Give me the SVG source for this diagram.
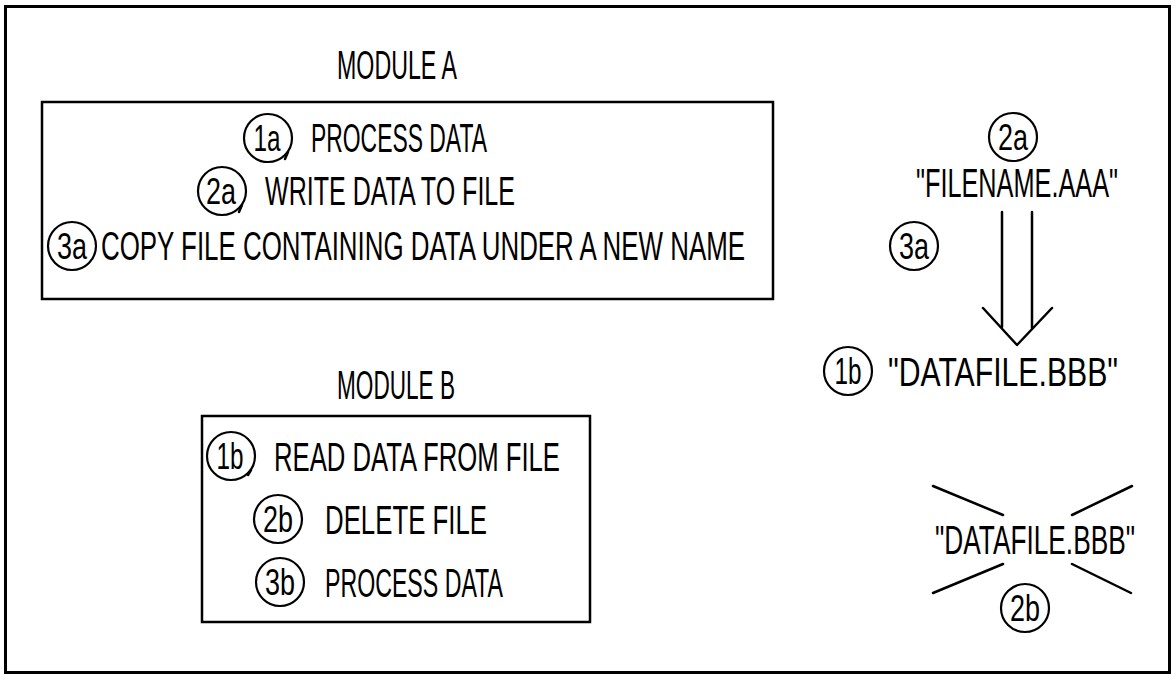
<svg xmlns="http://www.w3.org/2000/svg" width="1176" height="675" viewBox="0 0 1176 675">
  <style>
    .frame { fill: none; stroke: #000; stroke-width: 3; }
    .box { fill: none; stroke: #000; stroke-width: 2.5; }
    .ln { fill: none; stroke: #000; stroke-width: 2.5; stroke-linecap: round; stroke-linejoin: round; }
    .tag { fill: none; stroke: #000; stroke-width: 2.2; }
    text { font-family: "Liberation Sans Narrow", "Liberation Sans", Arial, sans-serif; fill: #000; }
    .t { font-size: 40px; }
    .n { font-size: 37px; text-anchor: middle; }
  </style>

  <rect width="1176" height="675" fill="#fff"/>
  <rect class="frame" x="5.5" y="6.5" width="1164" height="666"/>

  <!-- Module A -->
  <g id="moduleA">
    <text class="t" x="337" y="79" textLength="120" lengthAdjust="spacingAndGlyphs">MODULE A</text>
    <rect class="box" x="42" y="102" width="731" height="197"/>
    <g id="a1">
      <circle class="tag" cx="268" cy="138" r="24"/>
      <path class="ln" d="M288 152 l-3 7"/>
      <text class="n" x="267" y="151" textLength="27" lengthAdjust="spacingAndGlyphs">1a</text>
      <text class="t" x="311" y="152" textLength="176" lengthAdjust="spacingAndGlyphs">PROCESS DATA</text>
    </g>
    <g id="a2">
      <circle class="tag" cx="222" cy="191" r="24"/>
      <path class="ln" d="M242 205 l-3 7"/>
      <text class="n" x="221" y="204" textLength="30" lengthAdjust="spacingAndGlyphs">2a</text>
      <text class="t" x="265" y="205" textLength="250" lengthAdjust="spacingAndGlyphs">WRITE DATA TO FILE</text>
    </g>
    <g id="a3">
      <circle class="tag" cx="72" cy="246" r="24"/>
      <text class="n" x="72" y="259" textLength="30" lengthAdjust="spacingAndGlyphs">3a</text>
      <text class="t" x="101" y="260" textLength="644" lengthAdjust="spacingAndGlyphs">COPY FILE CONTAINING DATA UNDER A NEW NAME</text>
    </g>
  </g>

  <!-- Module B -->
  <g id="moduleB">
    <text class="t" x="337" y="399" textLength="118" lengthAdjust="spacingAndGlyphs">MODULE B</text>
    <rect class="box" x="202" y="416" width="388" height="206"/>
    <g id="b1">
      <circle class="tag" cx="231" cy="456" r="24"/>
      <path class="ln" d="M251 470 l-3 5"/>
      <text class="n" x="230" y="469" textLength="27" lengthAdjust="spacingAndGlyphs">1b</text>
      <text class="t" x="274" y="471" textLength="286" lengthAdjust="spacingAndGlyphs">READ DATA FROM FILE</text>
    </g>
    <g id="b2">
      <circle class="tag" cx="278" cy="519" r="24"/>
      <text class="n" x="278" y="532" textLength="30" lengthAdjust="spacingAndGlyphs">2b</text>
      <text class="t" x="325" y="534" textLength="162" lengthAdjust="spacingAndGlyphs">DELETE FILE</text>
    </g>
    <g id="b3">
      <circle class="tag" cx="280" cy="582" r="24"/>
      <text class="n" x="280" y="595" textLength="30" lengthAdjust="spacingAndGlyphs">3b</text>
      <text class="t" x="325" y="597" textLength="178" lengthAdjust="spacingAndGlyphs">PROCESS DATA</text>
    </g>
  </g>

  <!-- Source file -->
  <g id="source">
    <circle class="tag" cx="1013" cy="137" r="24"/>
    <text class="n" x="1013" y="150" textLength="30" lengthAdjust="spacingAndGlyphs">2a</text>
    <text class="t" x="916" y="197" textLength="202" lengthAdjust="spacingAndGlyphs">"FILENAME.AAA"</text>
  </g>

  <!-- Copy step -->
  <g id="copy">
    <circle class="tag" cx="914" cy="246" r="24"/>
    <text class="n" x="914" y="259" textLength="30" lengthAdjust="spacingAndGlyphs">3a</text>
  </g>

  <!-- Target file -->
  <g id="target">
    <circle class="tag" cx="848" cy="371" r="24"/>
    <text class="n" x="848" y="384" textLength="27" lengthAdjust="spacingAndGlyphs">1b</text>
    <text class="t" x="888" y="386" textLength="230" lengthAdjust="spacingAndGlyphs">"DATAFILE.BBB"</text>
  </g>

  <!-- Deleted file -->
  <g id="deleted">
    <text class="t" x="935" y="554" textLength="200" lengthAdjust="spacingAndGlyphs">"DATAFILE.BBB"</text>
    <circle class="tag" cx="1025" cy="608" r="24"/>
    <text class="n" x="1025" y="621" textLength="30" lengthAdjust="spacingAndGlyphs">2b</text>
  </g>

  <!-- Connectors -->
  <g id="connectors">
    <path class="ln" d="M1002 212 V327 M1032 212 V328"/>
    <path class="ln" d="M983 308 L1017 345 L1052 308"/>
    <path class="ln" d="M933 486 L1003 515 M1072 515 L1132 486 M933 593 L1003 564 M1072 564 L1131 593"/>
  </g>
</svg>
